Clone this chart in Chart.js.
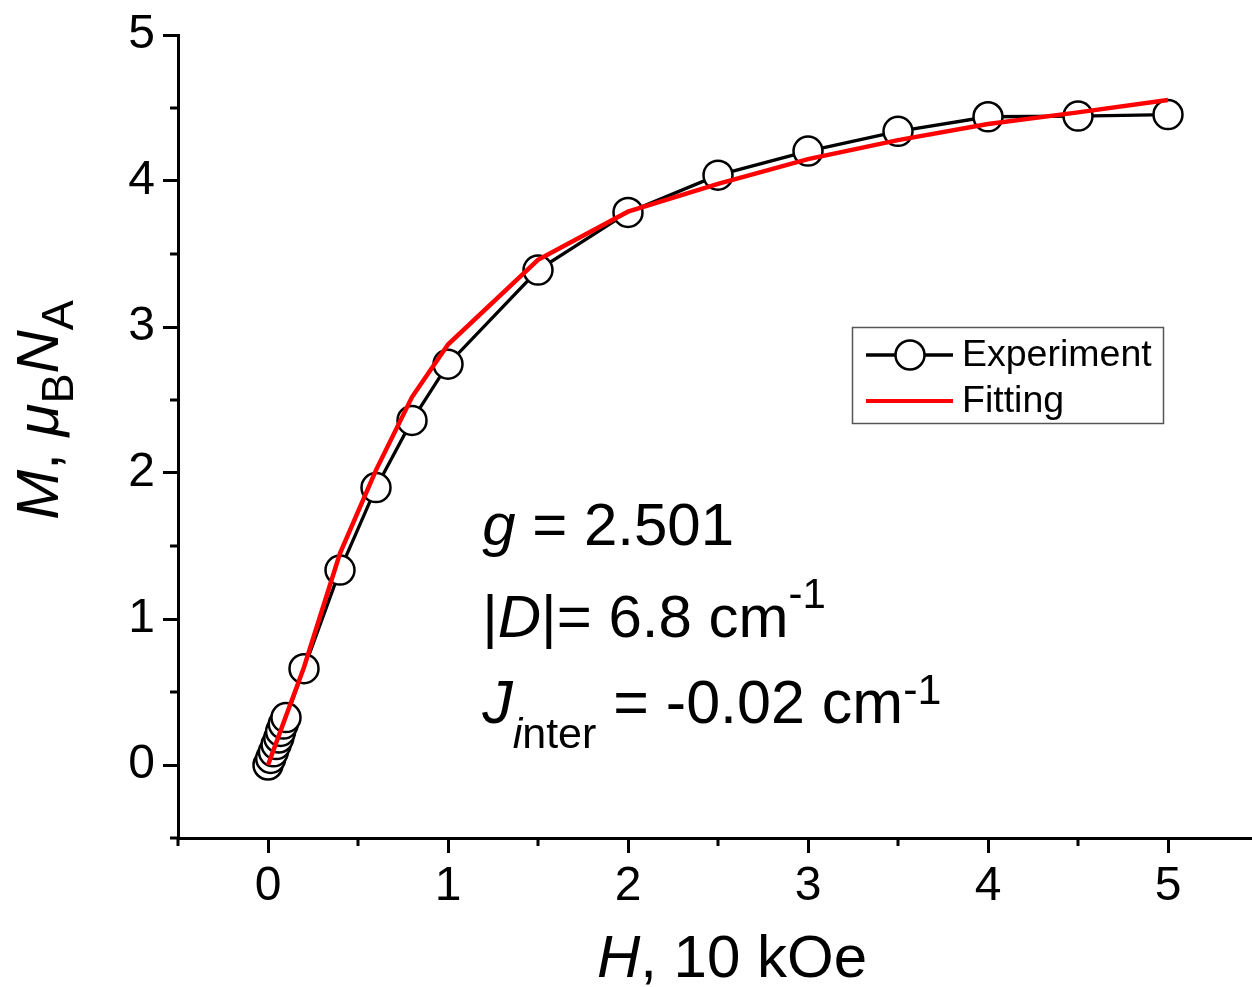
<!DOCTYPE html>
<html>
<head>
<meta charset="utf-8">
<script src="https://cdn.jsdelivr.net/npm/chart.js@4.4.1/dist/chart.umd.min.js"></script>
<style>
  html, body { margin: 0; padding: 0; background: #fff; overflow: hidden; }
  #wrap { width: 1260px; height: 987px; }
</style>
</head>
<body>
<div id="wrap"><canvas id="magChart" width="1260" height="987"></canvas></div>
<script>
// field H (10 kOe) and magnetisation M (muB NA)
var H = [0, 0.015, 0.03, 0.045, 0.06, 0.07, 0.085, 0.1, 0.2, 0.4, 0.6, 0.8, 1.0, 1.5, 2.0, 2.5, 3.0, 3.5, 4.0, 4.5, 5.0];
var Mexp = [0, 0.045, 0.09, 0.14, 0.185, 0.23, 0.28, 0.325, 0.66, 1.335, 1.90, 2.36, 2.745, 3.39, 3.785, 4.04, 4.205, 4.34, 4.44, 4.445, 4.455];
var Mfit = [0, 0.05, 0.1, 0.15, 0.2, 0.235, 0.285, 0.335, 0.67, 1.45, 2.02, 2.52, 2.88, 3.46, 3.79, 3.98, 4.15, 4.28, 4.39, 4.47, 4.555];

var xTicks = [0, 1, 2, 3, 4, 5];
var yTicks = [0, 1, 2, 3, 4, 5];
var xMinor = [-0.5, 0.5, 1.5, 2.5, 3.5, 4.5, 5.5];
var yMinor = [-0.5, 0.5, 1.5, 2.5, 3.5, 4.5];

var FONT = '"Liberation Sans", Arial, Helvetica, sans-serif';
Chart.defaults.font.family = FONT;
Chart.defaults.color = '#000';

function pts(xs, ys) {
    return xs.map(function (x, i) { return { x: x, y: ys[i] }; });
}

function fontOf(r) {
    return (r.it ? 'italic ' : '') + r.size + 'px ' + FONT;
}

// draw a row of text pieces (italic / sub / superscript) starting at x
function drawRuns(ctx, x, y, runs, align) {
    var w = 0;
    runs.forEach(function (r) {
        ctx.font = fontOf(r);
        r.w = ctx.measureText(r.t).width;
        w += r.w;
    });
    var cx = align === 'center' ? x - w / 2 : x;
    runs.forEach(function (r) {
        ctx.font = fontOf(r);
        ctx.fillText(r.t, cx, y + (r.dy || 0));
        cx += r.w;
    });
}

var extras = {
    id: 'extras',
    afterDraw: function (chart) {
        var ctx = chart.ctx;
        var xs = chart.scales.x, ys = chart.scales.y;
        var a = chart.chartArea;
        ctx.save();
        ctx.fillStyle = '#000';
        ctx.strokeStyle = '#000';
        ctx.textAlign = 'left';
        ctx.textBaseline = 'alphabetic';

        // minor ticks
        ctx.lineWidth = 3;
        ctx.beginPath();
        xMinor.forEach(function (v) {
            var px = xs.getPixelForValue(v);
            ctx.moveTo(px, a.bottom);
            ctx.lineTo(px, a.bottom + 8);
        });
        yMinor.forEach(function (v) {
            var py = ys.getPixelForValue(v);
            ctx.moveTo(a.left, py);
            ctx.lineTo(a.left - 8, py);
        });
        ctx.stroke();

        // axis titles
        drawRuns(ctx, 732, 977, [
            { t: 'H', it: true, size: 60 },
            { t: ', 10 kOe', size: 60 }
        ], 'center');

        ctx.save();
        ctx.translate(58, 410);
        ctx.rotate(-Math.PI / 2);
        drawRuns(ctx, 0, 0, [
            { t: 'M', it: true, size: 60 },
            { t: ', ', size: 60 },
            { t: 'μ', it: true, size: 60 },
            { t: 'B', size: 45, dy: 15 },
            { t: 'N', it: true, size: 60 },
            { t: 'A', size: 45, dy: 15 }
        ], 'center');
        ctx.restore();

        // fit parameters
        var tx = xs.getPixelForValue(1.19);
        drawRuns(ctx, tx, ys.getPixelForValue(1.507), [
            { t: 'g', it: true, size: 60 },
            { t: ' = 2.501', size: 60 }
        ]);
        drawRuns(ctx, tx, ys.getPixelForValue(0.877), [
            { t: '|', size: 60 },
            { t: 'D', it: true, size: 60 },
            { t: '|= 6.8 cm', size: 60 },
            { t: '-1', size: 42, dy: -29 }
        ]);
        drawRuns(ctx, tx, ys.getPixelForValue(0.288), [
            { t: 'J', it: true, size: 61 },
            { t: 'i', it: true, size: 43, dy: 25 },
            { t: 'nter', size: 43, dy: 25 },
            { t: ' = -0.02 cm', size: 61 },
            { t: '-1', size: 43, dy: -19 }
        ]);

        // legend
        ctx.lineWidth = 1.5;
        ctx.strokeStyle = '#555';
        ctx.strokeRect(852.5, 327.5, 311, 96);
        ctx.lineWidth = 3.3;
        ctx.strokeStyle = '#000';
        ctx.beginPath();
        ctx.moveTo(866, 355);
        ctx.lineTo(953, 355);
        ctx.stroke();
        ctx.beginPath();
        ctx.arc(910, 355, 14.5, 0, Math.PI * 2);
        ctx.fillStyle = '#fff';
        ctx.fill();
        ctx.lineWidth = 2.5;
        ctx.stroke();
        ctx.strokeStyle = '#ff0000';
        ctx.lineWidth = 4;
        ctx.beginPath();
        ctx.moveTo(866, 401);
        ctx.lineTo(953, 401);
        ctx.stroke();
        ctx.fillStyle = '#000';
        ctx.font = '37.5px ' + FONT;
        ctx.textBaseline = 'middle';
        ctx.fillText('Experiment', 962, 356);
        ctx.fillText('Fitting', 962, 402);
        ctx.restore();
    }
};

var ctx = document.getElementById('magChart').getContext('2d');
var chart = new Chart(ctx, {
    type: 'scatter',
    data: {
        datasets: [{
            label: 'Fitting',
            data: pts(H, Mfit),
            showLine: true,
            borderColor: '#ff0000',
            borderWidth: 4.5,
            pointRadius: 0,
            order: 0
        }, {
            label: 'Experiment',
            data: pts(H, Mexp),
            showLine: true,
            borderColor: '#000',
            borderWidth: 3.3,
            pointRadius: 14.5,
            pointBorderWidth: 2.5,
            pointBackgroundColor: '#fff',
            pointBorderColor: '#000',
            order: 1
        }]
    },
    options: {
        responsive: false,
        maintainAspectRatio: false,
        animation: false,
        layout: { padding: { top: 35, right: 2, left: 0, bottom: 0 } },
        plugins: {
            legend: { display: false },
            tooltip: { enabled: false }
        },
        scales: {
            x: {
                type: 'linear',
                min: -0.5,
                max: 5.5,
                afterBuildTicks: function (s) { s.ticks = xTicks.map(function (v) { return { value: v }; }); },
                afterFit: function (s) { s.height = 149; s.paddingLeft = 0; s.paddingRight = 0; },
                ticks: { font: { size: 48 }, padding: 5, maxRotation: 0, autoSkip: false },
                grid: { drawOnChartArea: false, drawTicks: true, tickLength: 15, tickWidth: 3, tickColor: '#000' },
                border: { display: true, width: 3, color: '#000' }
            },
            y: {
                min: -0.5,
                max: 5,
                afterBuildTicks: function (s) { s.ticks = yTicks.map(function (v) { return { value: v }; }); },
                afterFit: function (s) { s.width = 178; s.paddingTop = 0; s.paddingBottom = 0; },
                ticks: { font: { size: 48 }, padding: 8, autoSkip: false },
                grid: { drawOnChartArea: false, drawTicks: true, tickLength: 15, tickWidth: 3, tickColor: '#000' },
                border: { display: true, width: 3, color: '#000' }
            }
        }
    },
    plugins: [extras]
});

// the x axis runs to 5.5 just past the right edge of the picture
var diff = Math.round(1258 - chart.chartArea.right);
if (diff !== 0) {
    var w = 1260 + diff;
    document.getElementById('wrap').style.width = w + 'px';
    chart.resize(w, 987);
}
</script>
</body>
</html>
